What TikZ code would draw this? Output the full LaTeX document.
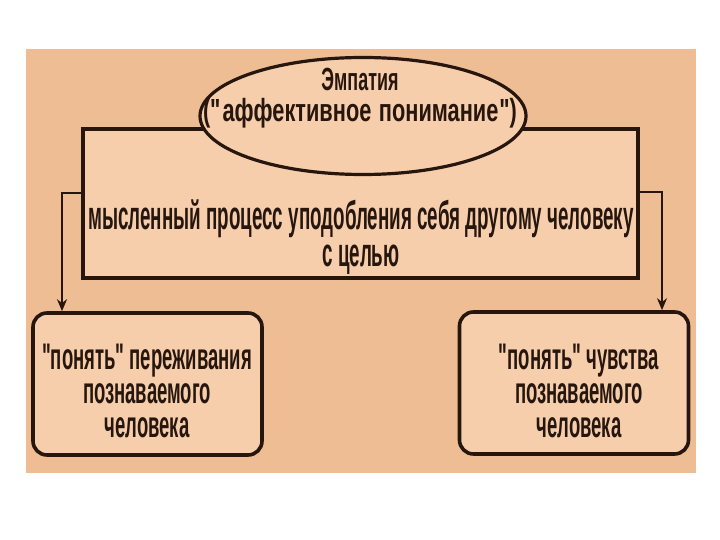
\documentclass[tikz,border=0pt]{standalone}
\usepackage{fontspec}
\newfontfamily\mainfnt{Liberation Sans}[FakeStretch=0.47]
\newfontfamily\elltitle{Liberation Sans}[FakeStretch=0.56]
\newfontfamily\ellsub{Liberation Sans}[FakeStretch=0.68]
\newfontfamily\boxfnt{Liberation Sans}[FakeStretch=0.5]
\usetikzlibrary{arrows.meta,shapes.geometric}
\definecolor{outerbg}{RGB}{239,189,148}
\definecolor{innerbg}{RGB}{246,206,172}
\definecolor{ink}{RGB}{38,22,14}
\begin{document}
\begin{tikzpicture}[x=1pt,y=-1pt,
  frame/.style={draw=ink,line width=3.6pt,fill=innerbg},
  boxstyle/.style={frame,rounded corners=14pt,minimum width=229pt,minimum height=142pt,inner sep=0pt},
  txt/.style={align=center,inner sep=0pt,text=ink},
  conn/.style={draw=ink,line width=2.6pt,-{Stealth[length=12pt,width=10pt]}}]
\useasboundingbox (0,0) rectangle (720,540);
\fill[white] (0,0) rectangle (720,540);
\fill[outerbg] (26,49) rectangle (696,473);
\node[frame,rectangle,minimum width=555pt,minimum height=149pt,inner sep=0pt] (main) at (360.5,203.5) {};
\node[frame,ellipse,minimum width=326pt,minimum height=117pt,inner sep=0pt,line width=3.2pt] (ell) at (363,116) {};
\node[txt,font=\bfseries\fontsize{32}{31}\selectfont] (etitle) at (360,98) {{\elltitle Эмпатия}\\{\ellsub\makebox[314pt]{("\hspace{2pt}аффективное\hfill понимание\hspace{1pt}")}}};
\node[txt,font=\mainfnt\bfseries\fontsize{40}{37}\selectfont] (mtext) at (361,237) {мысленный процесс уподобления себя другому человеку\\с целью};
\node[boxstyle] (lbox) at (147.5,384) {};
\node[boxstyle] (rbox) at (574,383) {};
\node[txt,font=\boxfnt\bfseries\fontsize{37}{34}\selectfont] (ltext) at (147,391) {"понять" переживания\\познаваемого\\человека};
\node[txt,font=\boxfnt\bfseries\fontsize{37}{34}\selectfont] (rtext) at (579,391) {"понять" чувства\\познаваемого\\человека};
\draw[conn] (main.west |- 0,193) -| (lbox.north -| 62,0);
\draw[conn] (main.east |- 0,192) -| (rbox.north -| 662,0);
\end{tikzpicture}
\end{document}
